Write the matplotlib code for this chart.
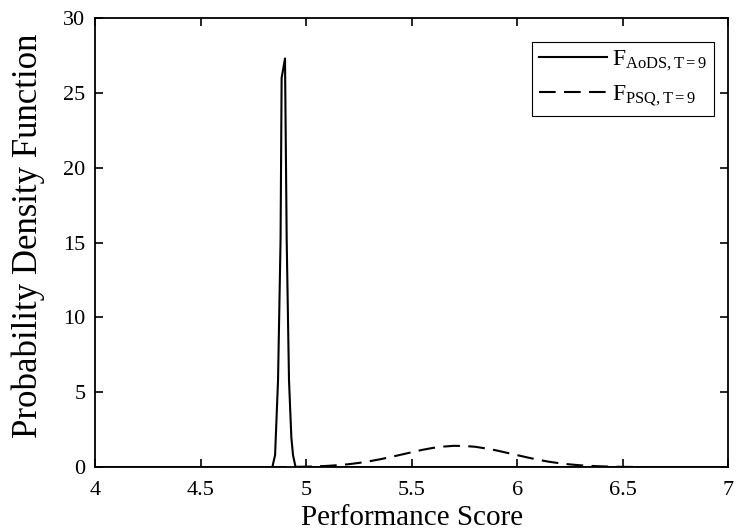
import numpy as np
import matplotlib
matplotlib.use("Agg")
import matplotlib.pyplot as plt

plt.rcParams['font.family'] = ['Liberation Serif', 'DejaVu Serif']
plt.rcParams['mathtext.fontset'] = 'custom'
plt.rcParams['mathtext.rm'] = 'Liberation Serif'
plt.rcParams['mathtext.it'] = 'Liberation Serif:italic'

# AoDS density (narrow spike)
x_aods = [4.0, 4.84, 4.853, 4.867, 4.879, 4.884, 4.9, 4.908, 4.919, 4.93, 4.938, 4.95, 7.0]
y_aods = [0.0, 0.0, 0.8, 5.8, 15.2, 26.0, 27.3, 15.2, 5.8, 2.0, 0.8, 0.0, 0.0]

# PSQ density (wide bump)
x_psq = [4.0, 4.9, 5.0, 5.05, 5.1, 5.15, 5.2, 5.25, 5.3, 5.35, 5.4, 5.45, 5.5, 5.55,
         5.6, 5.65, 5.7, 5.75, 5.8, 5.85, 5.9, 5.95, 6.0, 6.05, 6.1, 6.15, 6.2,
         6.25, 6.3, 6.35, 6.4, 6.45, 6.5, 6.6, 6.7, 7.0]
y_psq = [0.0, 0.0, 0.03, 0.05, 0.08, 0.13, 0.19, 0.28, 0.39, 0.52, 0.67, 0.83, 0.99, 1.15,
         1.28, 1.37, 1.42, 1.41, 1.36, 1.25, 1.12, 0.96, 0.80, 0.64, 0.49, 0.36, 0.26,
         0.18, 0.12, 0.08, 0.05, 0.03, 0.015, 0.005, 0.0, 0.0]

xticks = [4, 4.5, 5, 5.5, 6, 6.5, 7]
xticklabels = ['4', '4.5', '5', '5.5', '6', '6.5', '7']
yticks = [0, 5, 10, 15, 20, 25, 30]

fig = plt.figure(figsize=(7.37, 5.32), dpi=100)
ax = fig.add_axes([0.129, 0.122, 0.859, 0.844])

ax.plot(x_aods, y_aods, 'k-', lw=1.5, label=r'F$_{\mathrm{AoDS,T{=}9}}$')
ax.plot(x_psq, y_psq, color='k', lw=1.5, linestyle=(0, (8, 4)),
        label=r'F$_{\mathrm{PSQ,T{=}9}}$')

ax.set_xlim(4, 7)
ax.set_ylim(0, 30)
ax.set_xticks(xticks)
ax.set_xticklabels(xticklabels)
ax.set_yticks(yticks)
ax.tick_params(direction='in', top=True, right=True, labelsize=16, width=1.2, length=6)
ax.tick_params(axis='x', pad=10)
ax.tick_params(axis='y', pad=7)
for s in ax.spines.values():
    s.set_linewidth(1.3)

ax.set_xlabel('Performance Score', fontsize=21)
ax.xaxis.label.set_va('baseline')
ax.xaxis.set_label_coords(0.5, -0.1292)
ax.set_ylabel('Probability Density Function', fontsize=25)
ax.yaxis.label.set_va('center')
ax.yaxis.set_label_coords(-0.106, 0.5156)

leg = ax.legend(loc='upper right', bbox_to_anchor=(0.969, 0.921),
                bbox_transform=fig.transFigure, borderaxespad=0,
                fontsize=17, handlelength=2.9, fancybox=False, framealpha=1,
                edgecolor='k', borderpad=0.3, labelspacing=0.45, handletextpad=0.2)
leg.get_frame().set_linewidth(0.8)

fig.savefig('out.png', dpi=100)
